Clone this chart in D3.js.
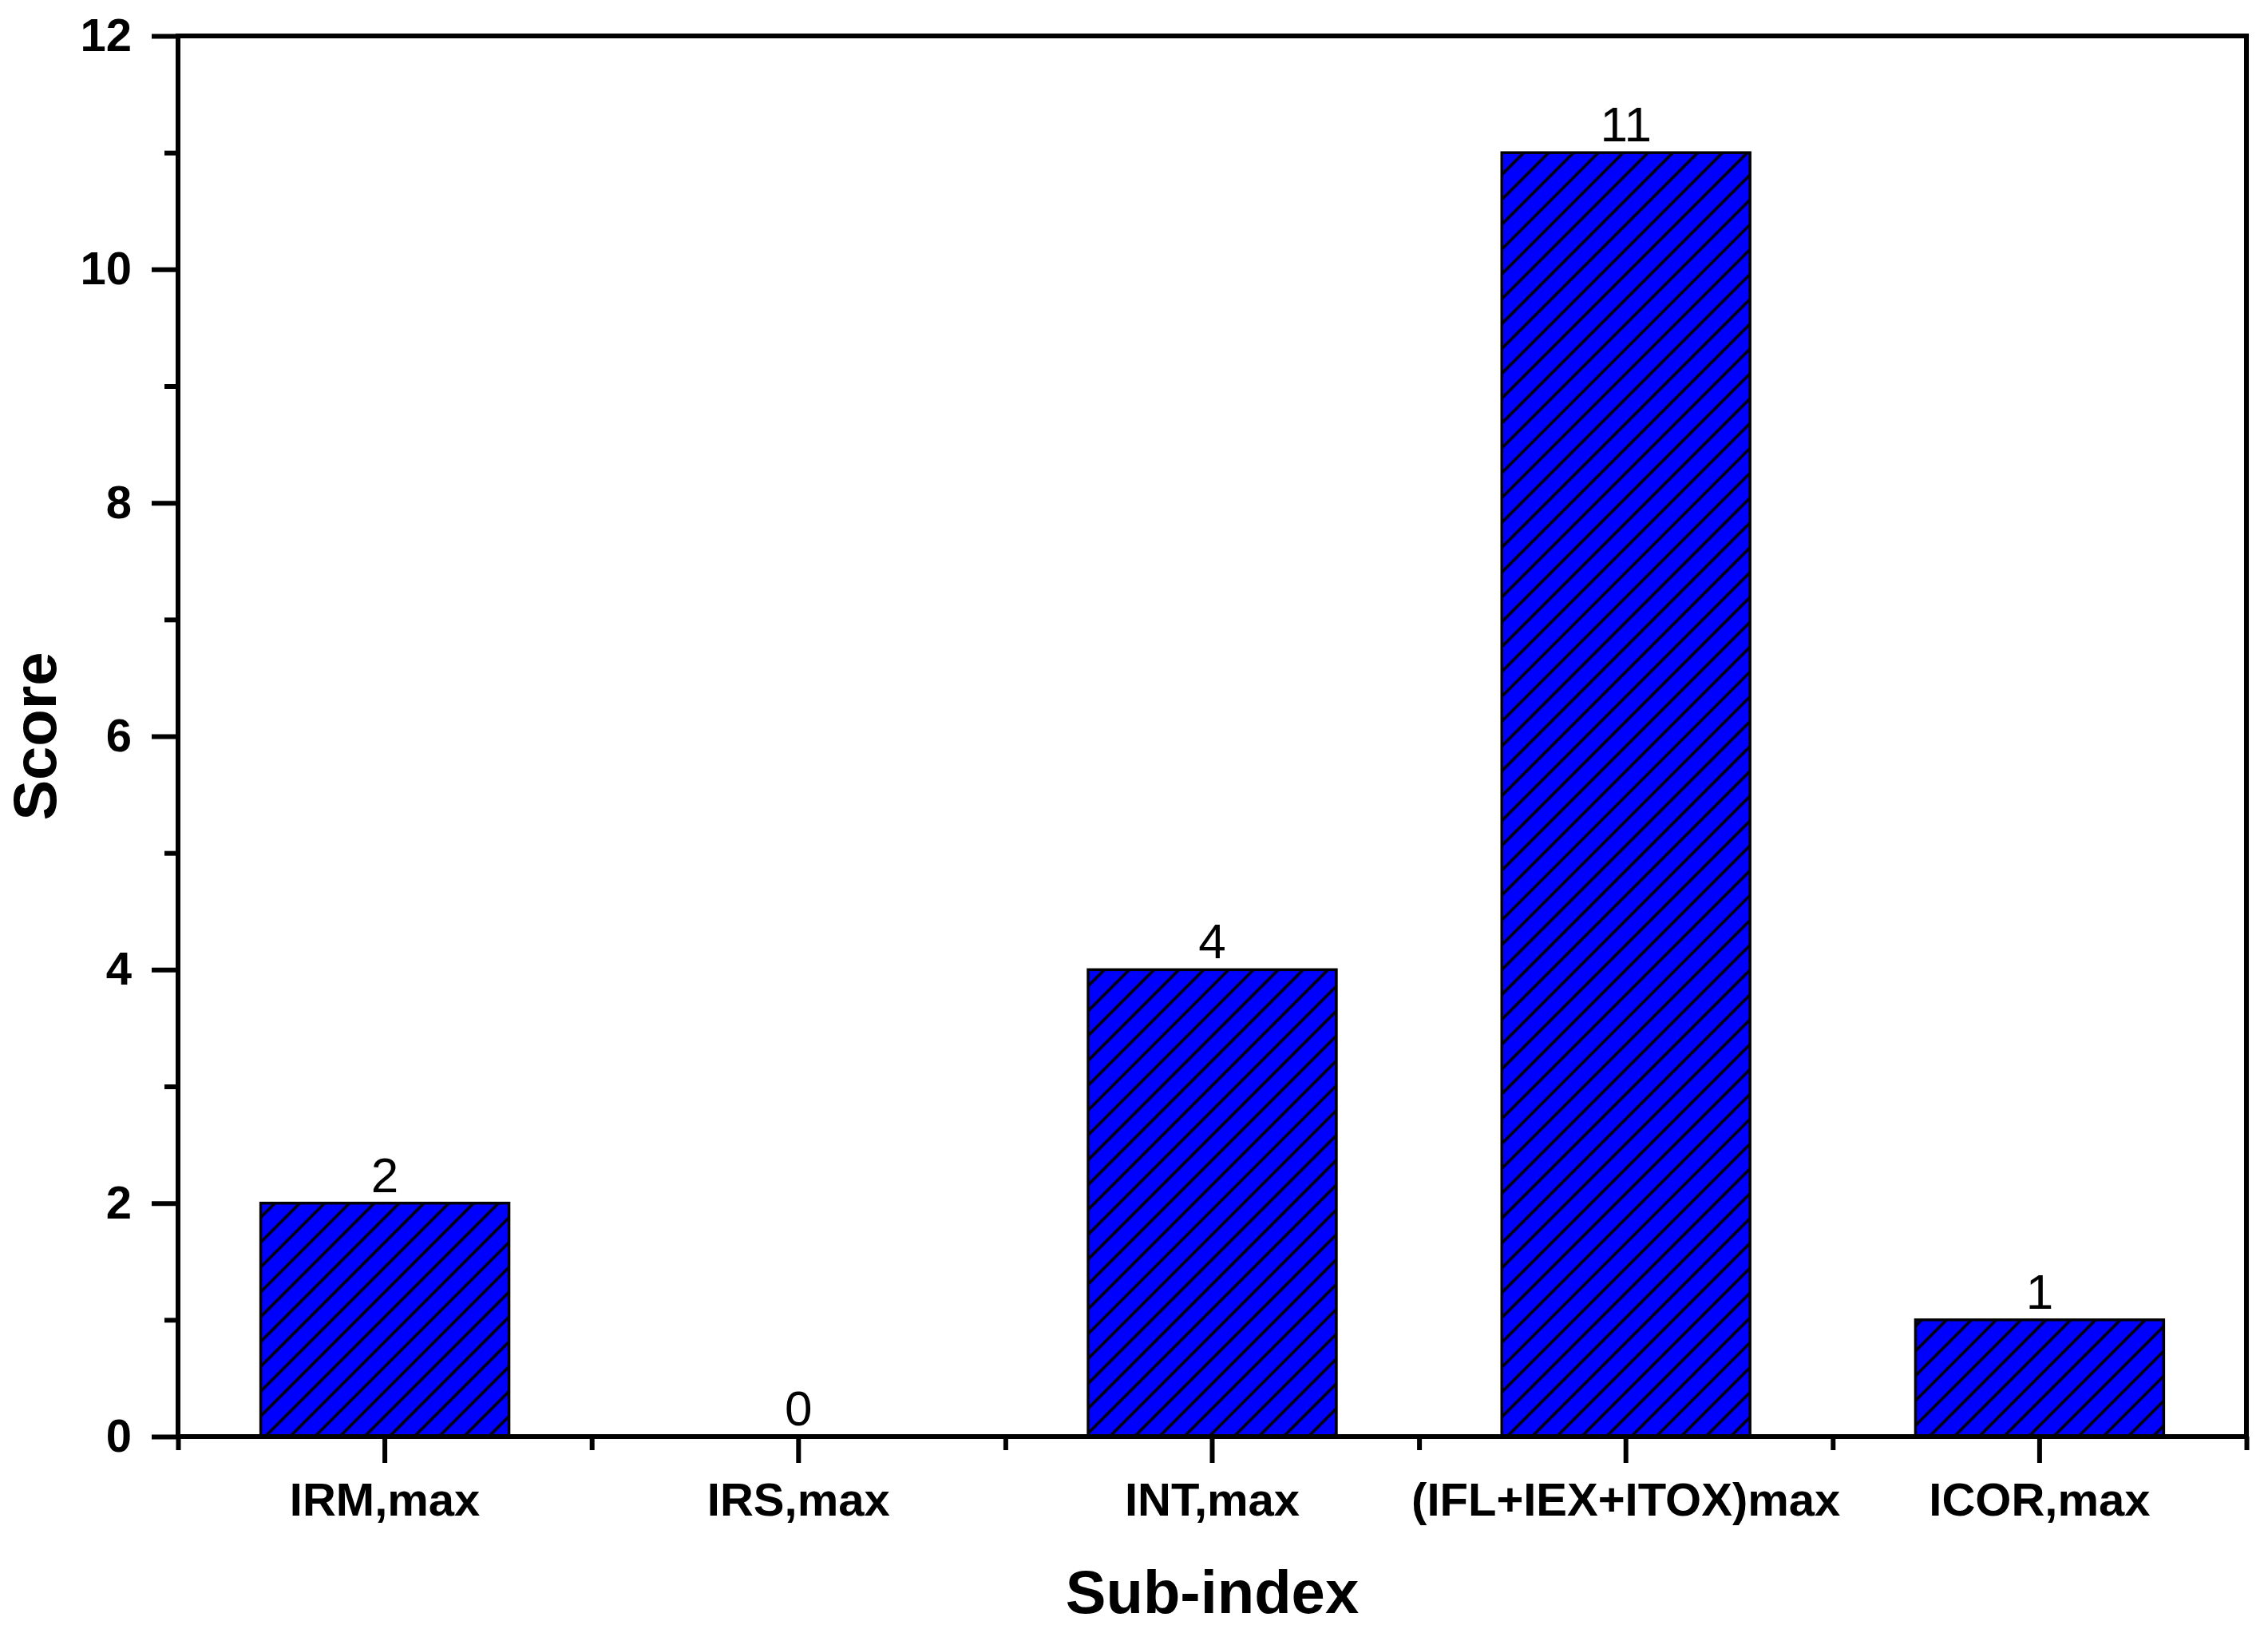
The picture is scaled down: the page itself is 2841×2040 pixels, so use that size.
<!DOCTYPE html>
<html>
<head>
<meta charset="utf-8">
<script src="https://cdn.jsdelivr.net/npm/d3@7"></script>
<style>
  html, body { margin: 0; padding: 0; background: #fff; }
  svg { display: block; }
  text { font-family: "Liberation Sans", Arial, sans-serif; }
</style>
</head>
<body>
<script>
const categories = ["IRM,max", "IRS,max", "INT,max", "(IFL+IEX+ITOX)max", "ICOR,max"];
const scores = [2, 0, 4, 11, 1];
const yMajorTicks = [0, 2, 4, 6, 8, 10, 12];
const yMinorTicks = [1, 3, 5, 7, 9, 11];
const xMinorTicks = [0.5, 1.5, 2.5, 3.5, 4.5, 5.5];
const yTitle = "Score";
const xTitle = "Sub-index";

const W = 2841, H = 2040;
const L = 223, R = 2814, T = 45, B = 1799;

const svg = d3.select("body").append("svg").attr("width", W).attr("height", H);

const defs = svg.append("defs");
const pat = defs.append("pattern")
  .attr("id", "hatch")
  .attr("patternUnits", "userSpaceOnUse")
  .attr("width", 22).attr("height", 22)
  .attr("patternTransform", "rotate(45)");
pat.append("rect").attr("width", 22).attr("height", 22).attr("fill", "#0000FF");
pat.append("line").attr("x1", 11).attr("y1", 0).attr("x2", 11).attr("y2", 22)
  .attr("stroke", "#000").attr("stroke-width", 3.5);

const x = d3.scaleBand().domain(categories).range([L, R]).paddingInner(0.4).paddingOuter(0.2);
const xMinor = d3.scaleLinear().domain([0.5, 5.5]).range([L, R]);
const y = d3.scaleLinear().domain([0, 12]).range([B, T]);

const data = categories.map((c, i) => ({ c, v: scores[i] }));

// bars
svg.append("g").selectAll("rect").data(data).join("rect")
  .attr("x", d => x(d.c))
  .attr("y", d => y(d.v))
  .attr("width", x.bandwidth())
  .attr("height", d => y(0) - y(d.v))
  .attr("fill", "url(#hatch)")
  .attr("stroke", d => d.v > 0 ? "#000" : "none")
  .attr("stroke-width", 3.5);

// value labels
svg.append("g").selectAll("text").data(data).join("text")
  .attr("x", d => x(d.c) + x.bandwidth() / 2)
  .attr("y", d => y(d.v) - 14)
  .attr("text-anchor", "middle")
  .attr("font-size", 62)
  .attr("fill", "#000")
  .text(d => d.v);

function styleAxis(g) {
  g.select(".domain").remove();
  g.selectAll(".tick line").attr("stroke", "#000").attr("stroke-width", 6);
  g.selectAll(".tick text")
    .attr("font-family", "'Liberation Sans', Arial, sans-serif")
    .attr("font-weight", "bold")
    .attr("font-size", 58)
    .attr("fill", "#000");
}

// y axis major
svg.append("g").attr("transform", `translate(${L},0)`)
  .call(d3.axisLeft(y).tickValues(yMajorTicks).tickSize(33).tickPadding(25).tickFormat(d3.format("d")))
  .call(styleAxis);
// y axis minor
svg.append("g").attr("transform", `translate(${L},0)`)
  .call(d3.axisLeft(y).tickValues(yMinorTicks).tickSize(17).tickFormat(""))
  .call(styleAxis);

// x axis major
svg.append("g").attr("transform", `translate(0,${B})`)
  .call(d3.axisBottom(x).tickSize(33).tickPadding(25))
  .call(styleAxis);
// x axis minor
svg.append("g").attr("transform", `translate(0,${B})`)
  .call(d3.axisBottom(xMinor).tickValues(xMinorTicks).tickSize(17).tickFormat(""))
  .call(styleAxis);

// frame
svg.append("rect")
  .attr("x", L).attr("y", T)
  .attr("width", R - L).attr("height", B - T)
  .attr("fill", "none").attr("stroke", "#000").attr("stroke-width", 6)
  .attr("stroke-linejoin", "miter");

// axis titles
svg.append("text")
  .attr("x", (L + R) / 2).attr("y", 2020)
  .attr("text-anchor", "middle")
  .attr("font-weight", "bold").attr("font-size", 76)
  .text(xTitle);

svg.append("text")
  .attr("transform", `translate(70,${(T + B) / 2}) rotate(-90)`)
  .attr("text-anchor", "middle")
  .attr("font-weight", "bold").attr("font-size", 76)
  .text(yTitle);
</script>
</body>
</html>
